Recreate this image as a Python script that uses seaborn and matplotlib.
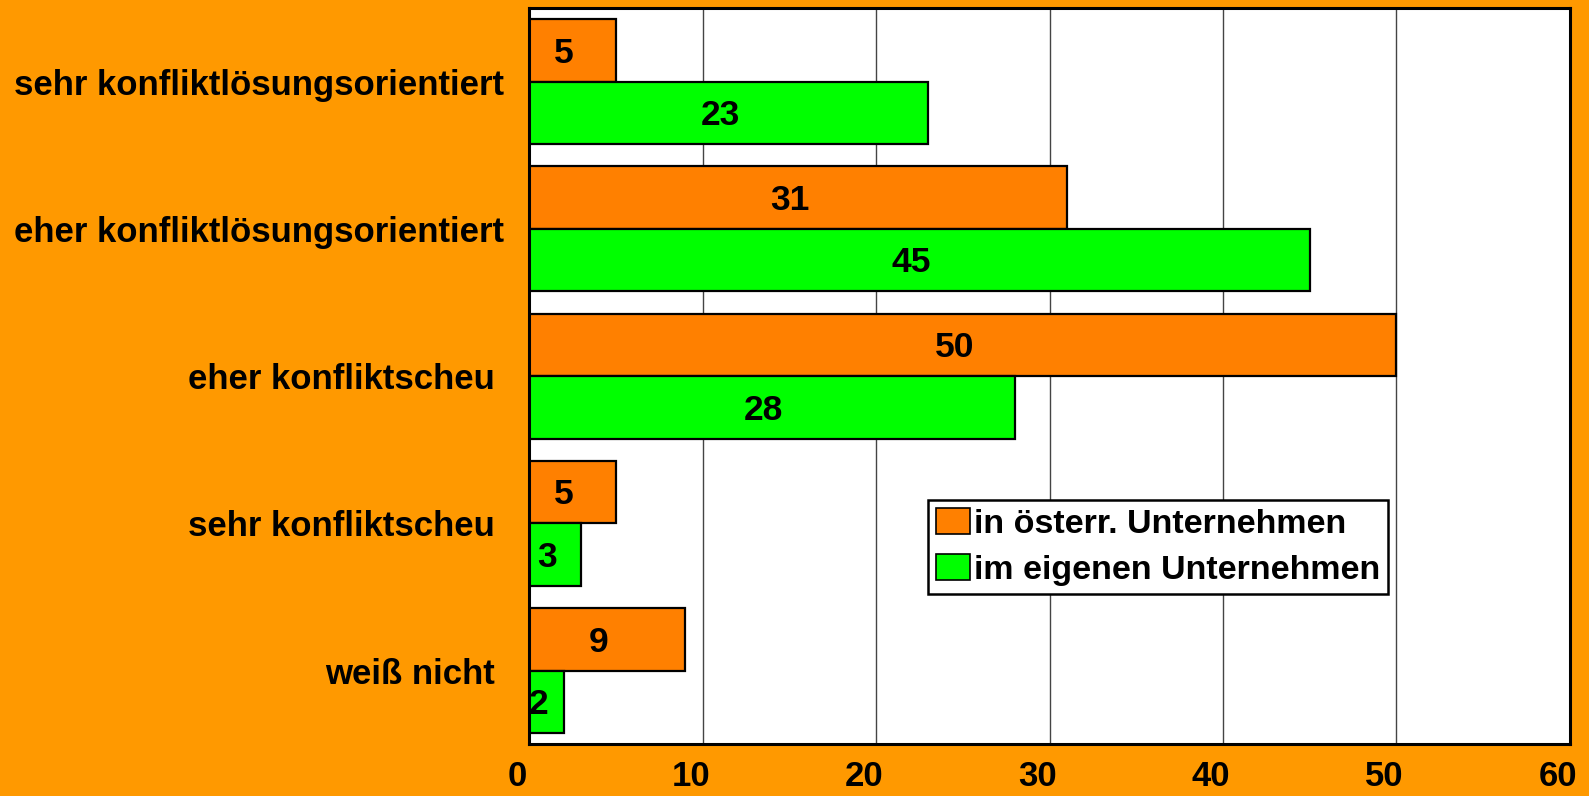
import pandas as pd
import seaborn as sns
import matplotlib.pyplot as plt
import matplotlib.transforms as mtransforms
from matplotlib.patches import Patch

categories = ["sehr konfliktlösungsorientiert", "eher konfliktlösungsorientiert",
              "eher konfliktscheu ", "sehr konfliktscheu ", "weiß nicht "]
series = ["in österr. Unternehmen", "im eigenen Unternehmen"]
oesterr = [5, 31, 50, 5, 9]
eigenes = [23, 45, 28, 3, 2]
xticks = [0, 10, 20, 30, 40, 50, 60]

colors = ["#FF8000", "#00FF00"]
bg = "#FF9900"

df = pd.DataFrame({
    "kategorie": categories * 2,
    "gruppe": [series[0]] * len(categories) + [series[1]] * len(categories),
    "wert": oesterr + eigenes,
})

sns.set_style("white")
plt.rcParams["font.family"] = ["Liberation Sans", "DejaVu Sans"]
plt.rcParams["font.weight"] = "bold"
plt.rcParams["text.color"] = "black"
plt.rcParams["xtick.color"] = "black"
plt.rcParams["ytick.color"] = "black"

fig = plt.figure(figsize=(15.89, 7.96), dpi=100, facecolor=bg)
ax = fig.add_axes([0.333, 0.065, 0.655, 0.925])
ax.set_facecolor("white")

sns.barplot(data=df, x="wert", y="kategorie", hue="gruppe", order=categories,
            hue_order=series, palette=colors, saturation=1, orient="h", width=0.85,
            edgecolor="black", linewidth=1.6, legend=False, ax=ax)

# value labels, nudged a little left/down like the original
for cont in ax.containers:
    for t in ax.bar_label(cont, label_type="center", fontsize=25.5, fontweight="bold", color="black"):
        t.xyann = (-6, -2)

ax.set_xlim(0, 60)
ax.set_ylim(len(categories) - 0.5, -0.5)
ax.set_xticks(xticks)
ax.set_xticklabels([str(t) for t in xticks])
ax.set_xlabel("")
ax.set_ylabel("")
ax.grid(axis="x", color="#444444", linewidth=1.0)
ax.set_axisbelow(True)
ax.tick_params(axis="x", length=0, pad=11, labelsize=25, labelcolor="black")
ax.tick_params(axis="y", length=0, pad=18, labelsize=25, labelcolor="black")
for lab in ax.get_xticklabels() + ax.get_yticklabels():
    lab.set_fontweight("bold")
shift = mtransforms.ScaledTranslation(-12 / 100, 0, fig.dpi_scale_trans)
for lab in ax.get_xticklabels():
    lab.set_transform(lab.get_transform() + shift)
for sp in ax.spines.values():
    sp.set_visible(True)
    sp.set_color("black")
    sp.set_linewidth(2.2)

handles = [Patch(facecolor=c, edgecolor="black", linewidth=1.2) for c in colors]
leg = ax.legend(handles, series, loc="upper left", bbox_to_anchor=(0.383, 0.332),
                fancybox=False, framealpha=1, edgecolor="black",
                prop={"size": 24.5, "weight": "bold"}, handlelength=1.0,
                handleheight=0.8, handletextpad=0.1, borderpad=0.25,
                labelspacing=0.4, borderaxespad=0)
leg.get_frame().set_linewidth(1.8)

fig.savefig("out.png", dpi=100, facecolor=bg)
